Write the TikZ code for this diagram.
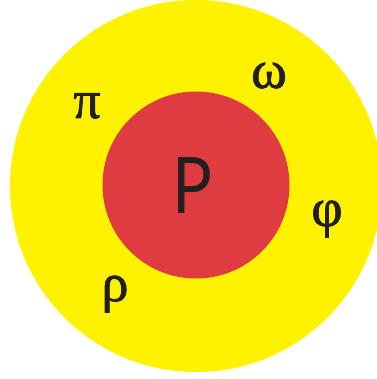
\documentclass[tikz,border=0pt]{standalone}
\usepackage{fontspec}
\setmainfont{Liberation Serif}
\newfontfamily\labelsans{Lato}
\newfontfamily\greekfont[FakeBold=1.4]{Liberation Serif}
\definecolor{ringyellow}{HTML}{FFF200}
\definecolor{corered}{HTML}{DE3C40}
\definecolor{ink}{HTML}{231F20}

\begin{document}
\begin{tikzpicture}[
  x=1pt, y=-1pt,
  disc/.style={circle, draw=none, inner sep=0pt},
  greek/.style={font=\greekfont\fontsize{54}{54}\selectfont, text=ink, inner sep=0pt, anchor=base},
]
\useasboundingbox (0,0) rectangle (376,379);
% outer ring and core
\node[disc, fill=ringyellow, minimum size=372pt] (ring) at (196,186) {};
\node[disc, fill=corered, minimum size=187pt] (core) at (196,185) {};
\node[font=\labelsans\fontsize{78}{78}\selectfont, text=ink, inner sep=0pt, anchor=base, xscale=0.85] (plabel) at (192,213) {P};

% greek letters round the core
\node[greek] (pi)    at (87,118)  {π};
\node[greek] (omega) at (269,88)  {ω};
\node[greek] (phi)   at (327,226) {φ};
\node[greek] (rho)   at (115,301) {ρ};
\end{tikzpicture}
\end{document}
